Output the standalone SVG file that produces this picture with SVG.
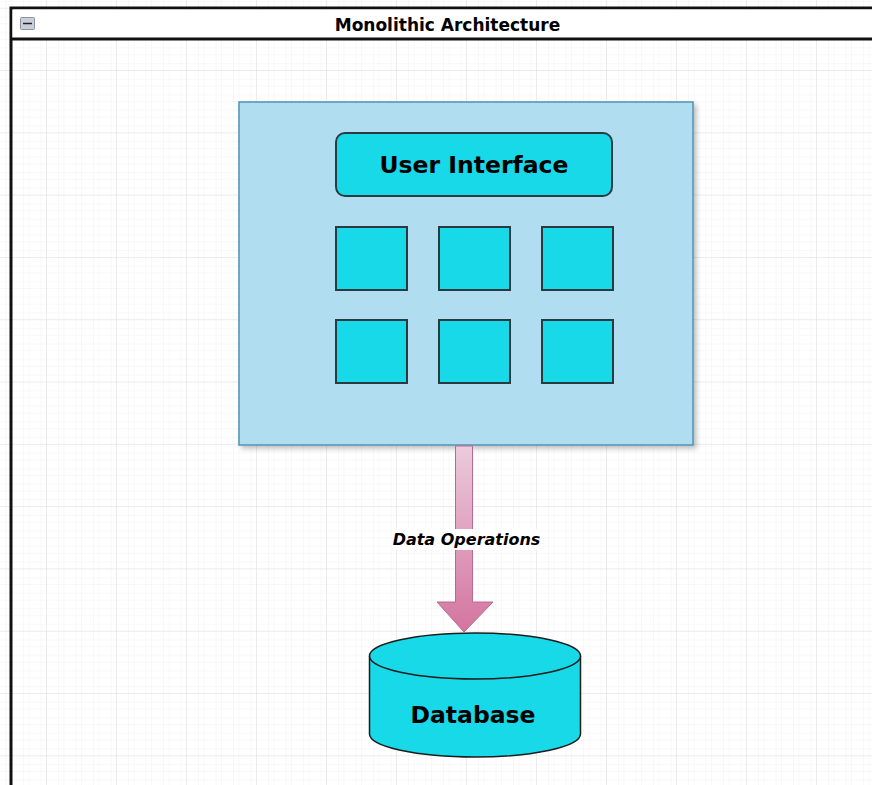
<svg xmlns="http://www.w3.org/2000/svg" width="872" height="785" viewBox="0 0 872 785">
  <style>
    .lbl { font-family: "DejaVu Sans", Verdana, sans-serif; font-weight: bold; fill: #000; text-anchor: middle; }
    .cell { fill: #17d9e8; stroke: #2b3a40; stroke-width: 2; }
  </style>
  <defs>
    <pattern id="gridMajor" width="70" height="62.3" patternUnits="userSpaceOnUse" x="-23" y="8.7">
      <rect width="70" height="62.3" fill="url(#gridMinor)"/>
      <path d="M70 0 V62.3 M0 62.3 H70" fill="none" stroke="#e0e0e0" stroke-width="1"/>
    </pattern>
    <pattern id="gridMinor" width="17.5" height="15.575" patternUnits="userSpaceOnUse" x="-23" y="8.7">
      <path d="M17.5 0 V15.575 M0 15.575 H17.5" fill="none" stroke="#f2f2f2" stroke-width="1"/>
    </pattern>
    <linearGradient id="arrowFill" x1="0" y1="0" x2="0" y2="1">
      <stop offset="0" stop-color="#ebcbdc"/>
      <stop offset="1" stop-color="#d4749f"/>
    </linearGradient>
    <filter id="shadow" x="-5%" y="-5%" width="115%" height="115%">
      <feGaussianBlur in="SourceAlpha" stdDeviation="2.5"/>
      <feOffset dx="3" dy="3"/>
      <feComponentTransfer><feFuncA type="linear" slope="0.25"/></feComponentTransfer>
      <feMerge><feMergeNode/><feMergeNode in="SourceGraphic"/></feMerge>
    </filter>
  </defs>

  <!-- canvas grid -->
  <rect width="872" height="785" fill="#ffffff"/>
  <rect width="872" height="785" fill="url(#gridMinor)"/>
  <rect width="872" height="785" fill="url(#gridMajor)"/>

  <!-- container with title bar -->
  <g id="container">
    <rect x="11" y="8" width="880" height="800" fill="none" stroke="#111" stroke-width="3"/>
    <rect x="12.5" y="9.5" width="870" height="29" fill="#ffffff"/>
    <line x1="11" y1="39" x2="872" y2="39" stroke="#111" stroke-width="3"/>
    <rect x="20.5" y="17.5" width="14" height="12" rx="1" fill="#c9ced8" stroke="#8a94a6" stroke-width="1"/>
    <line x1="23" y1="23.5" x2="32" y2="23.5" stroke="#222" stroke-width="1.5"/>
    <text class="lbl" x="447.5" y="31" font-size="17">Monolithic Architecture</text>
  </g>

  <!-- application block -->
  <g id="app">
    <rect x="239" y="102" width="454" height="343" fill="#b1ddf0" stroke="#4f93b5" stroke-width="1.5" filter="url(#shadow)"/>
  </g>

  <g id="ui">
    <rect x="336" y="133" width="276" height="63" rx="9" fill="#17d9e8" stroke="#2b3a40" stroke-width="2"/>
    <text class="lbl" x="474" y="173" font-size="23.5">User Interface</text>
  </g>

  <g id="module-1"><rect class="cell" x="336" y="227" width="71" height="63"/></g>
  <g id="module-2"><rect class="cell" x="439" y="227" width="71" height="63"/></g>
  <g id="module-3"><rect class="cell" x="542" y="227" width="71" height="63"/></g>
  <g id="module-4"><rect class="cell" x="336" y="320" width="71" height="63"/></g>
  <g id="module-5"><rect class="cell" x="439" y="320" width="71" height="63"/></g>
  <g id="module-6"><rect class="cell" x="542" y="320" width="71" height="63"/></g>

  <!-- data flow connector -->
  <g id="connectors">
    <path d="M455.5 446 H472.5 V602 H493 L464 632 L437 602 H455.5 Z" fill="url(#arrowFill)" stroke="#b9688f" stroke-width="1"/>
    <rect x="392" y="529" width="149" height="21" fill="#ffffff"/>
    <text class="lbl" x="466.5" y="545" font-size="16" font-style="italic">Data Operations</text>
  </g>

  <g id="database">
    <path d="M369.5 656 V734 A105.5 23 0 0 0 580.5 734 V656" fill="#17d9e8" stroke="#1c1c1c" stroke-width="1.5"/>
    <ellipse cx="475" cy="656" rx="105.5" ry="23" fill="#17d9e8" stroke="#1c1c1c" stroke-width="1.5"/>
    <text class="lbl" x="473" y="723" font-size="23.5">Database</text>
  </g>
</svg>
